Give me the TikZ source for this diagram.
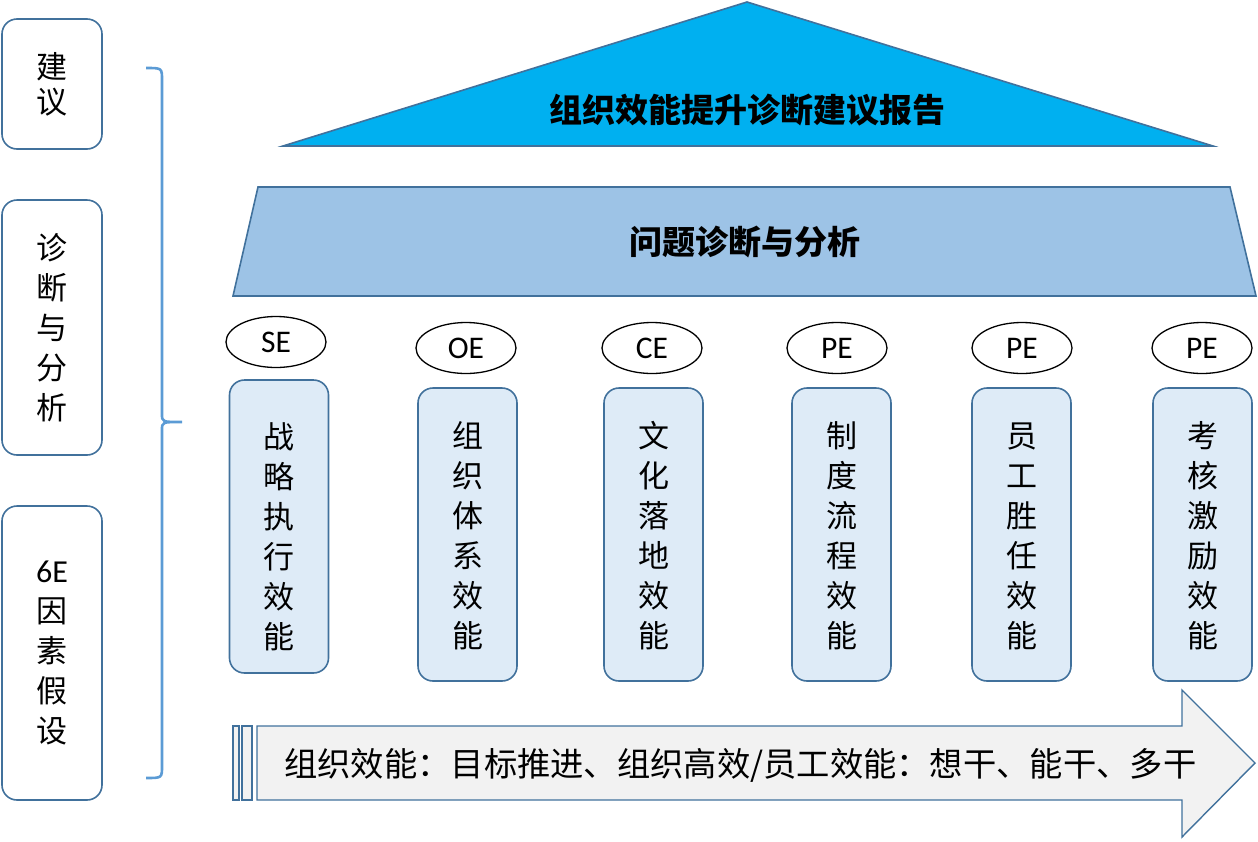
\documentclass[tikz,border=0pt]{standalone}
\usepackage{fontspec}
\setmainfont{Carlito}
\newfontfamily\cjk{Noto Sans CJK SC}
\usetikzlibrary{shapes.geometric}
\definecolor{bord}{HTML}{41719C}
\definecolor{topblue}{HTML}{00B0F0}
\definecolor{midblue}{HTML}{9DC3E6}
\definecolor{itemfill}{HTML}{DEEBF7}
\definecolor{arrowfill}{HTML}{F2F2F2}
\definecolor{bracec}{HTML}{5B9BD5}
\tikzset{
  sidebox/.style={draw=bord, line width=1.6pt, rounded corners=15pt, fill=white,
    minimum width=100pt, inner sep=0pt, align=center},
  sidetext/.style={font=\cjk\fontsize{31}{40}\selectfont},
  itembox/.style={draw=bord, line width=1.6pt, rounded corners=15pt, fill=itemfill,
    minimum width=99pt, minimum height=293pt, inner sep=0pt},
  vtext/.style={align=center, font=\cjk\fontsize{31}{40}\selectfont, inner sep=0pt},
  tag/.style={draw=black, line width=1.3pt, ellipse, minimum width=100pt, minimum height=51pt,
    inner sep=0pt, font=\fontsize{31.5}{32}\selectfont},
  shapeline/.style={draw=bord, line width=1.6pt, line join=miter},
  boldcjk/.style={font=\cjk\bfseries\fontsize{33}{36}\selectfont, inner sep=0pt},
}
\begin{document}
\begin{tikzpicture}[x=1pt,y=-1pt]
\useasboundingbox (0,0) rectangle (1258,841);

% left column boxes
\node[sidebox, minimum height=130pt, sidetext, font=\cjk\fontsize{31}{35}\selectfont] (s1) at (52,84) {建\\议};
\node[sidebox, minimum height=255pt, sidetext] (s2) at (52,327.5) {诊\\断\\与\\分\\析};
\node[sidebox, minimum height=294pt, sidetext] (s3) at (52,653) {{\rmfamily\fontsize{32}{40}\selectfont 6E}\\因\\素\\假\\设};

% brace
\draw[bracec, line width=2.6pt] (146,68) .. controls (162,68) .. (162,80) -- (162,414)
  .. controls (162,422) .. (182,422)
  .. controls (162,422) .. (162,430) -- (162,766)
  .. controls (162,778) .. (146,778);

% triangle
\coordinate (tl) at (283,146);
\coordinate (tr) at (1213,146);
\coordinate (tt) at (747,2);
\draw[shapeline, fill=topblue] (tl) -- (tt) -- (tr) -- cycle;
\node[boldcjk] (title) at (747,110) {组织效能提升诊断建议报告};

% trapezoid
\coordinate (ptl) at (258,187);
\coordinate (ptr) at (1230,187);
\coordinate (pbr) at (1256,296);
\coordinate (pbl) at (233,296);
\draw[shapeline, fill=midblue] (ptl) -- (ptr) -- (pbr) -- (pbl) -- cycle;
\node[boldcjk] (diag) at (745,242) {问题诊断与分析};

% tags
\node[tag] (e1) at (276,342) {SE};
\node[tag] (e2) at (466,348) {OE};
\node[tag] (e3) at (652,348) {CE};
\node[tag] (e4) at (837,348) {PE};
\node[tag] (e5) at (1022,348) {PE};
\node[tag] (e6) at (1202,348) {PE};

% item boxes
\node[itembox] (b1) at (279,526.5) {};
\node[itembox] (b2) at (467.5,534.5) {};
\node[itembox] (b3) at (653.5,534.5) {};
\node[itembox] (b4) at (841.5,534.5) {};
\node[itembox] (b5) at (1021.5,534.5) {};
\node[itembox] (b6) at (1202.5,534.5) {};
\node[vtext] (t1) at (279,537) {战\\略\\执\\行\\效\\能};
\node[vtext] (t2) at (467.5,536) {组\\织\\体\\系\\效\\能};
\node[vtext] (t3) at (653.5,536) {文\\化\\落\\地\\效\\能};
\node[vtext] (t4) at (841.5,536) {制\\度\\流\\程\\效\\能};
\node[vtext] (t5) at (1021.5,536) {员\\工\\胜\\任\\效\\能};
\node[vtext] (t6) at (1202.5,536) {考\\核\\激\\励\\效\\能};

% arrow
\draw[shapeline, fill=arrowfill, line width=1.4pt] (233,726) rectangle (239,800);
\draw[shapeline, fill=arrowfill, line width=1.4pt] (242,726) rectangle (252,800);
\draw[shapeline, fill=arrowfill, line width=1.4pt] (257,726) -- (1182,726) -- (1182,690) -- (1255,763)
  -- (1182,837) -- (1182,800) -- (257,800) -- cycle;
\node[font=\cjk\fontsize{33.3}{34}\selectfont, inner sep=0pt, anchor=west] (arrtext) at (284,765)
  {组织效能：目标推进、组织高效/员工效能：想干、能干、多干};
\end{tikzpicture}
\end{document}
